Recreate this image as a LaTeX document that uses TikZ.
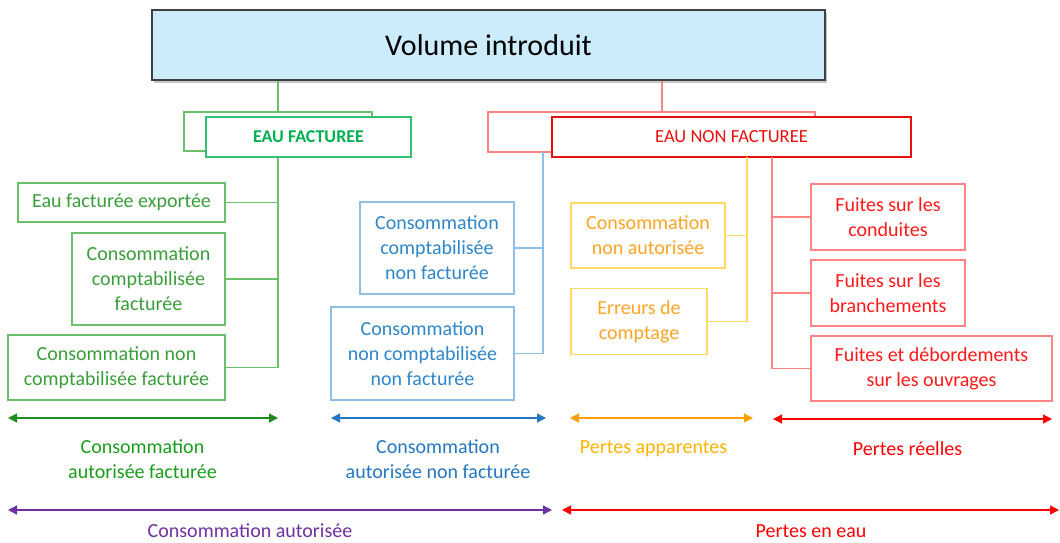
\documentclass[tikz,border=0pt]{standalone}
\usepackage{fontspec}
\setmainfont{Carlito}
\usetikzlibrary{arrows.meta,shadows}
\definecolor{titlefill}{HTML}{CCEBFB}
\definecolor{titledraw}{HTML}{404040}
\definecolor{gtext}{HTML}{3A9E3A}
\definecolor{gline}{HTML}{6CC06C}
\definecolor{ghead}{HTML}{00B050}
\definecolor{btext}{HTML}{2F86C8}
\definecolor{bline}{HTML}{8FBFE6}
\definecolor{otext}{HTML}{FFA426}
\definecolor{oline}{HTML}{FFD966}
\definecolor{rtext}{HTML}{FF1A1A}
\definecolor{rline}{HTML}{FF8484}
\definecolor{rhead}{HTML}{E81010}
\definecolor{garrow}{HTML}{1E8C1E}
\definecolor{barrow}{HTML}{2477C0}
\definecolor{oarrow}{HTML}{FFA000}
\definecolor{rarrow}{HTML}{FF0000}
\definecolor{parrow}{HTML}{7030A0}
\begin{document}
\begin{tikzpicture}[x=1pt,y=-1pt,
  txt/.style={font=\fontsize{20}{25}\selectfont,align=center,inner sep=0pt},
  boxx/.style={draw,line width=1.2pt,fill=white,inner sep=0pt,align=center,font=\fontsize{20}{25}\selectfont},
  gbox/.style={boxx,draw=gline,text=gtext},
  bbox/.style={boxx,draw=bline,text=btext},
  obox/.style={boxx,draw=oline,text=otext},
  rbox/.style={boxx,draw=rline,text=rtext},
  gconn/.style={draw=gline,line width=1.2pt},
  bconn/.style={draw=bline,line width=1.2pt},
  oconn/.style={draw=oline,line width=1.2pt},
  rconn/.style={draw=rline,line width=1.2pt},
  span/.style={line width=1.3pt,{Triangle[length=9pt,width=9pt]}-{Triangle[length=9pt,width=9pt]}}
]
\useasboundingbox (0,0) rectangle (1060,542);

% title
\node[draw=titledraw,line width=1.2pt,fill=titlefill,minimum width=673pt,minimum height=70pt,
  inner sep=0pt,font=\fontsize{30}{36}\selectfont,
  drop shadow={opacity=0.45,shadow xshift=1.5pt,shadow yshift=-2.5pt}]
  (title) at (488.5,45) {Volume introduit};

% EAU FACTUREE
\node[draw=gline,line width=1.2pt,minimum width=188pt,minimum height=39pt] (efb) at (278,131.5) {};
\node[draw=ghead!80,line width=1.2pt,fill=white,minimum width=205pt,minimum height=40pt,
  text=ghead,font=\fontsize{18}{22}\selectfont\bfseries] (ef) at (308.5,137) {EAU FACTUREE};

% EAU NON FACTUREE
\node[draw=rline,line width=1.2pt,minimum width=327pt,minimum height=40pt] (nfb) at (651.5,132) {};
\node[draw=rhead,line width=1.2pt,fill=white,minimum width=359pt,minimum height=40pt,
  text=rhead,font=\fontsize{18.5}{22}\selectfont] (nf) at (731.5,137) {EAU NON FACTUREE};

\coordinate (rtop) at (662,112);
\coordinate (btop) at (543,152);
\coordinate (otop) at (747,157);
\coordinate (rrtop) at (772,157);

\draw[gconn] (efb.north) -- (efb.north |- title.south);
\draw[rconn] (rtop) -- (rtop |- title.south);

% green boxes
\node[gbox,minimum width=207pt,minimum height=39pt] (g1) at (121.5,202.5) {Eau facturée exportée};
\node[gbox,minimum width=153pt,minimum height=92pt] (g2) at (148.5,279) {Consommation\\comptabilisée\\facturée};
\node[gbox,minimum width=217pt,minimum height=65pt] (g3) at (116.5,367.5) {Consommation non\\comptabilisée facturée};
\draw[gconn] (ef.south -| efb.north) |- (g3.east);
\draw[gconn] (g1.east) -- (g1.east -| efb.north);
\draw[gconn] (g2.east) -- (g2.east -| efb.north);

% blue boxes
\node[bbox,minimum width=154pt,minimum height=92pt] (b1) at (437,248) {Consommation\\comptabilisée\\non facturée};
\node[bbox,minimum width=183pt,minimum height=93pt] (b2) at (422.5,353.5) {Consommation\\non comptabilisée\\non facturée};
\draw[bconn] (btop) |- (b2.east);
\draw[bconn] (b1.east) -- (b1.east -| btop);

% orange boxes
\node[obox,minimum width=154pt,minimum height=65pt] (o1) at (648,235.5) {Consommation\\non autorisée};
\node[obox,minimum width=136pt,minimum height=66pt] (o2) at (639,321.5) {Erreurs de\\comptage};
\draw[oconn] (otop) |- (o2.east);
\draw[oconn] (o1.east) -- (o1.east -| otop);

% red boxes
\node[rbox,minimum width=154pt,minimum height=66pt] (r1) at (888,217) {Fuites sur les\\conduites};
\node[rbox,minimum width=154pt,minimum height=66pt] (r2) at (888,293) {Fuites sur les\\branchements};
\node[rbox,minimum width=241pt,minimum height=65pt] (r3) at (931.5,368.5) {Fuites et débordements\\sur les ouvrages};
\draw[rconn] (rrtop) |- (r3.west);
\draw[rconn] (r1.west) -- (r1.west -| rrtop);
\draw[rconn] (r2.west) -- (r2.west -| rrtop);

% spans
\coordinate (a1l) at (8,418);   \coordinate (a1r) at (278,418);
\coordinate (a2l) at (331,418); \coordinate (a2r) at (546,418);
\coordinate (a3l) at (570,418); \coordinate (a3r) at (753,418);
\coordinate (a4l) at (773,419); \coordinate (a4r) at (1052,419);
\coordinate (a5l) at (8,510);   \coordinate (a5r) at (552,510);
\coordinate (a6l) at (562,510); \coordinate (a6r) at (1059,510);
\draw[span,garrow] (a1l) -- (a1r);
\draw[span,barrow] (a2l) -- (a2r);
\draw[span,oarrow] (a3l) -- (a3r);
\draw[span,rarrow] (a4l) -- (a4r);
\draw[span,parrow] (a5l) -- (a5r);
\draw[span,rarrow] (a6l) -- (a6r);

\node[txt,text=garrow!85!green] (l1) at (142.5,459.5) {Consommation\\autorisée facturée};
\node[txt,text=barrow] (l2) at (438,459.5) {Consommation\\autorisée non facturée};
\node[txt,text=oarrow!80!yellow] (l3) at (653.5,449) {Pertes apparentes};
\node[txt,text=rarrow] (l4) at (907.5,449) {Pertes réelles};
\node[txt,text=parrow] (l5) at (250,531) {Consommation autorisée};
\node[txt,text=rarrow] (l6) at (811,531) {Pertes en eau};
\end{tikzpicture}
\end{document}
